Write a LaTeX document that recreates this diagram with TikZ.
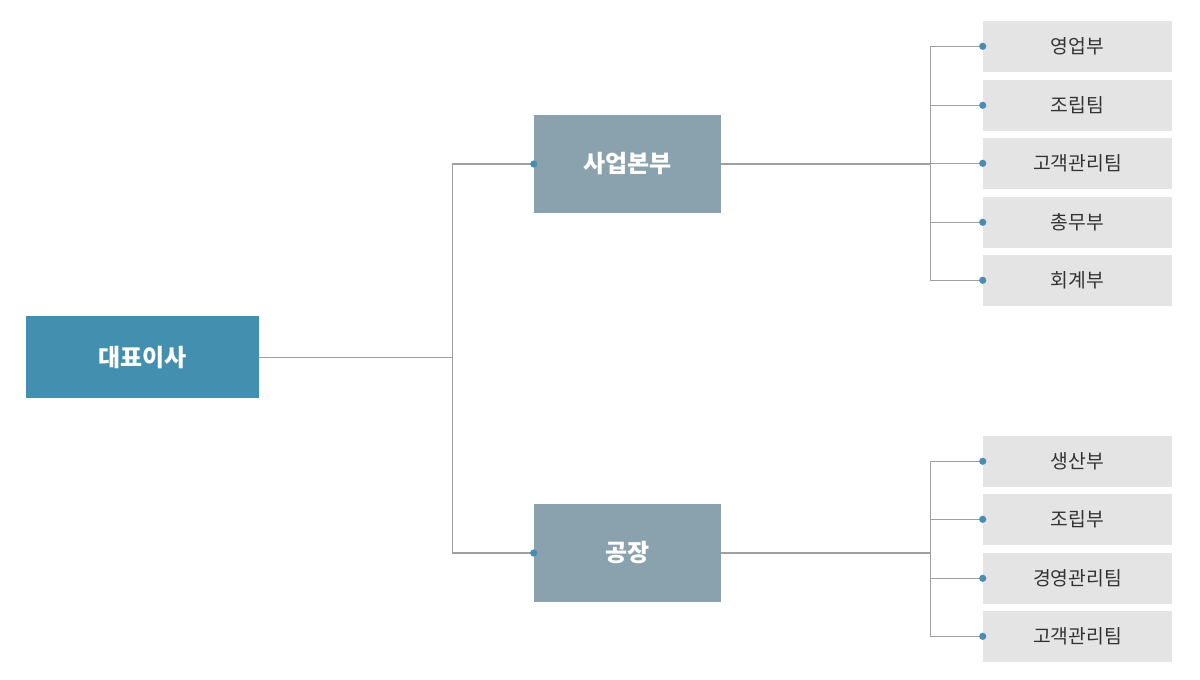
\documentclass[tikz,border=0pt]{standalone}
\usepackage{fontspec}
\setmainfont{Noto Sans CJK KR}
\definecolor{ceo}{HTML}{438FB0}
\definecolor{div}{HTML}{8AA2AE}
\definecolor{dept}{HTML}{E4E4E4}
\definecolor{wire}{HTML}{A0A0A0}
\definecolor{dotc}{HTML}{4A8DB0}
\definecolor{txt}{HTML}{333333}
\tikzset{
  ceobox/.style={fill=ceo, text=white, minimum width=233*0.75pt, minimum height=82*0.75pt, inner sep=0pt, font=\fontsize{18}{21}\selectfont\bfseries},
  divbox/.style={fill=div, text=white, minimum width=187*0.75pt, minimum height=98*0.75pt, inner sep=0pt, font=\fontsize{18}{21}\selectfont\bfseries},
  deptbox/.style={fill=dept, text=txt, minimum width=189*0.75pt, minimum height=50.5*0.75pt, inner sep=0pt, font=\fontsize{14.5}{17}\selectfont},
  wireline/.style={draw=wire, line width=0.8pt},
  dotmark/.style={fill=dotc},
}
\begin{document}
\begin{tikzpicture}[x=0.75pt,y=-0.75pt]
\useasboundingbox (0,0) rectangle (1200,680);
% nodes
\node[ceobox] (ceo) at (142.5,357.5) {대표이사};
\node[divbox] (biz) at (627.5,164) {사업본부};
\node[divbox] (fac) at (627.5,553) {공장};
\node[deptbox] (d1) at (1077.5,46.3) {영업부};
\node[deptbox] (d2) at (1077.5,105.3) {조립팀};
\node[deptbox] (d3) at (1077.5,163.3) {고객관리팀};
\node[deptbox] (d4) at (1077.5,222.3) {총무부};
\node[deptbox] (d5) at (1077.5,280.3) {회계부};
\node[deptbox] (e1) at (1077.5,461.3) {생산부};
\node[deptbox] (e2) at (1077.5,519.3) {조립부};
\node[deptbox] (e3) at (1077.5,578.3) {경영관리팀};
\node[deptbox] (e4) at (1077.5,636.3) {고객관리팀};
% junction coordinates
\coordinate (jl) at (452.5,357.5);
\coordinate (jt) at (930.5,164);
\coordinate (jb) at (930.5,553);
% connectors
\draw[wireline] (ceo.east) -- (jl);
\draw[wireline] (jl) |- (biz.west);
\draw[wireline] (jl) |- (fac.west);
\draw[wireline] (biz.east) -- (jt);
\draw[wireline] (fac.east) -- (jb);
\foreach \n in {d1,d2,d3,d4,d5}{\draw[wireline] (jt) |- (\n.west);}
\foreach \n in {e1,e2,e3,e4}{\draw[wireline] (jb) |- (\n.west);}
% dots
\foreach \n in {biz,fac,d1,d2,d3,d4,d5,e1,e2,e3,e4}{\fill[dotmark] (\n.west) circle (3.6);}
\end{tikzpicture}
\end{document}
